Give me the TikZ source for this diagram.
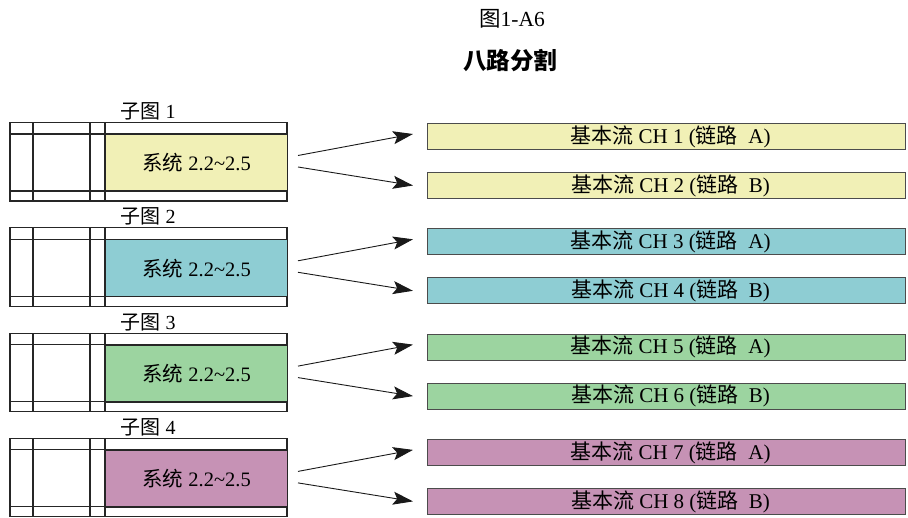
\documentclass[tikz,border=0pt]{standalone}
\usepackage{fontspec}
\setmainfont{Liberation Serif}
\newfontfamily\cjk{Noto Sans CJK SC}
\newcommand{\C}[1]{{\cjk #1}}
\usetikzlibrary{arrows.meta,calc}
\definecolor{cy}{HTML}{F1F0B6}
\definecolor{cb}{HTML}{8ECDD3}
\definecolor{cg}{HTML}{9CD4A0}
\definecolor{cp}{HTML}{C692B5}
\begin{document}
\begin{tikzpicture}[x=1pt,y=-1pt,
  frame/.style={draw=black!85, line width=1.1pt},
  sysbox/.style={draw=black!85, line width=1.1pt, minimum width=182pt, minimum height=57pt,
    inner sep=0pt, anchor=north west, font=\fontsize{20.5}{23}\selectfont},
  chbox/.style={draw=black!70, line width=1pt, minimum width=478pt, minimum height=26pt,
    inner sep=0pt, anchor=north west, font=\fontsize{21}{23}\selectfont},
  lbl/.style={inner sep=0pt, font=\fontsize{20}{23}\selectfont},
  arr/.style={line width=0.9pt, draw=black!90, -{Stealth[length=20pt,width=13pt,inset=4pt]}}]
\useasboundingbox (0,0) rectangle (908,518);
\node[inner sep=0pt] (title) at (512,19) {\fontsize{21.5}{24}\selectfont\C{图}1-A6};
\node[inner sep=0pt] (subtitle) at (510,61) {\fontsize{23.5}{26}\selectfont\cjk\bfseries 八路分割};
\foreach \i/\T/\col/\a/\b/\la/\lb in {1/122.5/cy/1/2/A/B, 2/227.8/cb/3/4/A/B, 3/333.1/cg/5/6/A/B, 4/438.4/cp/7/8/A/B}{
  \draw[frame, fill=white] (10,\T) rectangle (287,\T+78.5);
  \node[sysbox, fill=\col] (sys\i) at (105,\T+11.5) {\C{系统} 2.2\textasciitilde2.5};
  \draw[frame] (10,\T+11.5) -- (287,\T+11.5);
  \draw[frame] (10,\T+68.5) -- (287,\T+68.5);
  \draw[frame] (33,\T) -- (33,\T+78.5) (90,\T) -- (90,\T+78.5) (105,\T) -- (105,\T+78.5);
  \node[lbl] (lab\i) at (148,\T-11) {\C{子图} \i};
  \node[chbox, fill=\col] (ch\a) at (427,\T+0.5) {\hspace*{8pt}\C{基本流} CH \a\ (\C{链路}\ \ \la)};
  \node[chbox, fill=\col] (ch\b) at (427,\T+49.5) {\hspace*{8pt}\C{基本流} CH \b\ (\C{链路}\ \ \lb)};
  \coordinate (s\a) at (298,\T+33);
  \coordinate (e\a) at (413,\T+11.5);
  \coordinate (s\b) at (298,\T+44.5);
  \coordinate (e\b) at (413,\T+63);
  \draw[arr] (s\a) -- (e\a);
  \draw[arr] (s\b) -- (e\b);
}
\end{tikzpicture}
\end{document}
